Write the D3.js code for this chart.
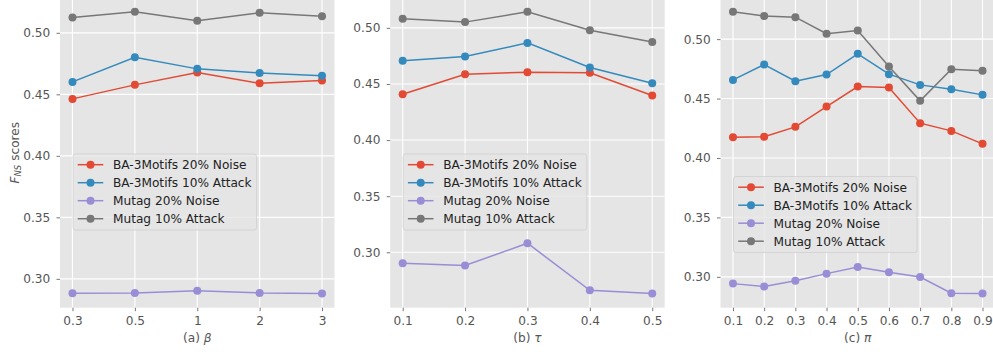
<!DOCTYPE html>
<html>
<head>
<meta charset="utf-8">
<script src="https://cdn.jsdelivr.net/npm/d3@7"></script>
<style>
  html, body { margin: 0; padding: 0; background: #ffffff; }
  svg { display: block; }
</style>
</head>
<body>
<svg id="chart" width="993" height="352"></svg>
<script>
// ---- data ----
const seriesNames = ["BA-3Motifs 20% Noise", "BA-3Motifs 10% Attack", "Mutag 20% Noise", "Mutag 10% Attack"];
const seriesColors = ["#E24A33", "#348ABD", "#988ED5", "#777777"];

const betaLabels = ["0.3", "0.5", "1", "2", "3"];
const betaNoiseBA  = [0.4463, 0.4577, 0.4677, 0.4590, 0.4612];
const betaAttackBA = [0.4601, 0.4801, 0.4707, 0.4674, 0.4652];
const betaNoiseMu  = [0.2883, 0.2885, 0.2904, 0.2885, 0.2880];
const betaAttackMu = [0.5125, 0.5171, 0.5098, 0.5163, 0.5135];

const tauLabels = ["0.1", "0.2", "0.3", "0.4", "0.5"];
const tauNoiseBA  = [0.4409, 0.4587, 0.4605, 0.4599, 0.4397];
const tauAttackBA = [0.4706, 0.4744, 0.4866, 0.4646, 0.4507];
const tauNoiseMu  = [0.2903, 0.2882, 0.3081, 0.2662, 0.2632];
const tauAttackMu = [0.5080, 0.5051, 0.5143, 0.4979, 0.4873];

const piLabels = ["0.1", "0.2", "0.3", "0.4", "0.5", "0.6", "0.7", "0.8", "0.9"];
const piNoiseBA  = [0.4175, 0.4178, 0.4262, 0.4433, 0.4601, 0.4593, 0.4293, 0.4228, 0.4119];
const piAttackBA = [0.4657, 0.4786, 0.4646, 0.4702, 0.4876, 0.4705, 0.4615, 0.4579, 0.4531];
const piNoiseMu  = [0.2943, 0.2918, 0.2968, 0.3027, 0.3083, 0.3039, 0.2999, 0.2862, 0.2859];
const piAttackMu = [0.5230, 0.5194, 0.5185, 0.5045, 0.5072, 0.4769, 0.4481, 0.4747, 0.4733];

const yTickValues = [0.30, 0.35, 0.40, 0.45, 0.50];

const panels = [
  { labels: betaLabels, series: [betaNoiseBA, betaAttackBA, betaNoiseMu, betaAttackMu],
    prefix: "(a) ", symbol: "β", left: 60, right: 334.5, legendX: 13, legendY: 156 },
  { labels: tauLabels, series: [tauNoiseBA, tauAttackBA, tauNoiseMu, tauAttackMu],
    prefix: "(b) ", symbol: "τ", left: 390.2, right: 664.7, legendX: 13, legendY: 156 },
  { labels: piLabels, series: [piNoiseBA, piAttackBA, piNoiseMu, piAttackMu],
    prefix: "(c) ", symbol: "π", left: 720.5, right: 995, legendX: 13, legendY: 178.5 }
];

// ---- layout ----
const FONT = '"DejaVu Sans", "Liberation Sans", Arial';
const FS = "12.15px";
const plotTop = -2.3, plotBottom = 307.7;
const bg = "#E5E5E5", tickColor = "#555555";

const svg = d3.select("#chart");

panels.forEach((p) => {
  const n = p.labels.length;
  const m = 0.05 * (n - 1);
  const x = d3.scaleLinear().domain([-m, n - 1 + m]).range([p.left, p.right]);

  const all = p.series.flat();
  const [lo, hi] = d3.extent(all);
  const pad = 0.05 * (hi - lo);
  const y = d3.scaleLinear().domain([lo - pad, hi + pad]).range([plotBottom, plotTop]);

  const g = svg.append("g");

  // panel background
  g.append("rect")
    .attr("x", p.left).attr("y", plotTop)
    .attr("width", p.right - p.left).attr("height", plotBottom - plotTop)
    .attr("fill", bg);

  // grid
  g.selectAll(".hgrid").data(yTickValues).join("line")
    .attr("x1", p.left).attr("x2", p.right)
    .attr("y1", d => y(d)).attr("y2", d => y(d))
    .attr("stroke", "#ffffff").attr("stroke-width", 1.1);
  g.selectAll(".vgrid").data(d3.range(n)).join("line")
    .attr("x1", d => x(d)).attr("x2", d => x(d))
    .attr("y1", plotTop).attr("y2", plotBottom)
    .attr("stroke", "#ffffff").attr("stroke-width", 1.1);

  // axes
  const xAxis = d3.axisBottom(x).tickValues(d3.range(n))
    .tickFormat(i => p.labels[i]).tickSize(3.5).tickPadding(5.2);
  const gx = g.append("g").attr("transform", `translate(0,${plotBottom})`).call(xAxis);
  const yAxis = d3.axisLeft(y).tickValues(yTickValues)
    .tickFormat(d3.format(".2f")).tickSize(3.5).tickPadding(6.3);
  const gy = g.append("g").attr("transform", `translate(${p.left},0)`).call(yAxis);
  [gx, gy].forEach(a => {
    a.attr("font-family", null).attr("font-size", null);
    a.select(".domain").remove();
    a.selectAll(".tick line").attr("stroke", tickColor).attr("stroke-width", 0.8);
    a.selectAll(".tick text").attr("fill", tickColor)
      .style("font-family", FONT).style("font-size", FS);
  });

  // x label
  const xl = g.append("text")
    .attr("x", (p.left + p.right) / 2).attr("y", 342)
    .attr("text-anchor", "middle").attr("fill", tickColor)
    .style("font-family", FONT).style("font-size", FS);
  xl.append("tspan").text(p.prefix);
  xl.append("tspan").style("font-style", "italic").text(p.symbol);

  // series lines and markers
  const line = d3.line().x((d, i) => x(i)).y(d => y(d));
  p.series.forEach((vals, si) => {
    g.append("path").datum(vals)
      .attr("d", line).attr("fill", "none")
      .attr("stroke", seriesColors[si]).attr("stroke-width", 1.5);
    g.selectAll(null).data(vals).join("circle")
      .attr("cx", (d, i) => x(i)).attr("cy", d => y(d)).attr("r", 4)
      .attr("fill", seriesColors[si]);
  });

  // legend
  const lx = p.left + p.legendX, ly = p.legendY;
  const lg = g.append("g").attr("transform", `translate(${lx},${ly})`);
  const frame = lg.append("rect")
    .attr("x", 0).attr("y", -2).attr("height", 76)
    .attr("rx", 2.5).attr("fill", "rgba(229,229,229,0.8)")
    .attr("stroke", "#cfcfcf").attr("stroke-width", 0.8);
  let maxW = 0;
  seriesNames.forEach((name, si) => {
    const cy = 8.7 + si * 18;
    lg.append("line").attr("x1", 4.7).attr("x2", 30.3).attr("y1", cy).attr("y2", cy)
      .attr("stroke", seriesColors[si]).attr("stroke-width", 1.5);
    lg.append("circle").attr("cx", 17.5).attr("cy", cy).attr("r", 4).attr("fill", seriesColors[si]);
    const t = lg.append("text").attr("x", 40).attr("y", cy + 4.3)
      .attr("fill", "#222222").style("font-family", FONT).style("font-size", FS).text(name);
    maxW = Math.max(maxW, t.node().getComputedTextLength());
  });
  frame.attr("width", 40 + maxW + 5);
});

// y-axis title on the first panel
const yt = svg.append("text")
  .attr("transform", `translate(18.5,${(plotTop + plotBottom) / 2}) rotate(-90)`)
  .attr("text-anchor", "middle").attr("fill", tickColor)
  .style("font-family", FONT).style("font-size", FS);
yt.append("tspan").style("font-style", "italic").text("F");
yt.append("tspan").style("font-style", "italic").style("font-size", "8.5px").attr("dy", 2.5).text("NS");
yt.append("tspan").attr("dy", -2.5).text(" scores");
</script>
</body>
</html>
